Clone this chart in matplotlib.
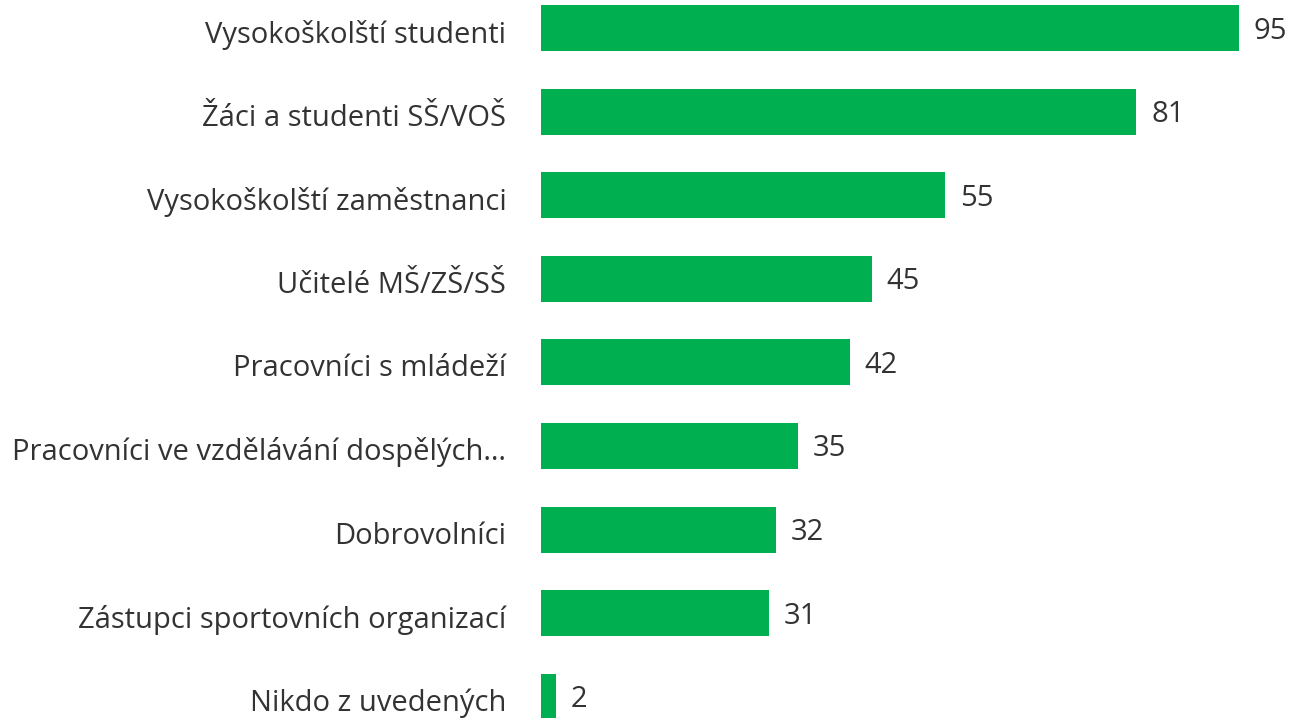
import matplotlib
matplotlib.use("Agg")
import matplotlib.pyplot as plt
import matplotlib.transforms as mtransforms

categories = [
    "Vysokoškolští studenti",
    "Žáci a studenti SŠ/VOŠ",
    "Vysokoškolští zaměstnanci",
    "Učitelé MŠ/ZŠ/SŠ",
    "Pracovníci s mládeží",
    "Pracovníci ve vzdělávání dospělých…",
    "Dobrovolníci",
    "Zástupci sportovních organizací",
    "Nikdo z uvedených",
]
values = [95, 81, 55, 45, 42, 35, 32, 31, 2]

plt.rcParams['font.family'] = ['Open Sans', 'Noto Sans', 'DejaVu Sans']
text_color = "#333333"
bar_color = "#00B050"

fig = plt.figure(figsize=(12.93, 7.18), dpi=100)
ax = fig.add_axes([541 / 1293, 0, 1 - 541 / 1293, 1])

ypos = list(range(len(categories)))
ax.barh(ypos, values, height=0.55, color=bar_color)

ax.set_xlim(0, (1293 - 541) / 7.347)
ax.set_ylim(8.254, -0.335)

ax.set_yticks(ypos)
ax.set_yticklabels(categories, fontsize=21, color=text_color)
ax.tick_params(axis='y', length=0, pad=25)
shift = mtransforms.ScaledTranslation(0, -3 / 100, fig.dpi_scale_trans)
for lbl in ax.get_yticklabels():
    lbl.set_transform(lbl.get_transform() + shift)
ax.set_xticks([])
for s in ax.spines.values():
    s.set_visible(False)

for y, v in zip(ypos, values):
    ax.annotate(str(v), xy=(v, y), xytext=(15, -3), textcoords='offset pixels',
                va='center', ha='left', fontsize=21, color=text_color)

fig.savefig("out.png", dpi=100)
